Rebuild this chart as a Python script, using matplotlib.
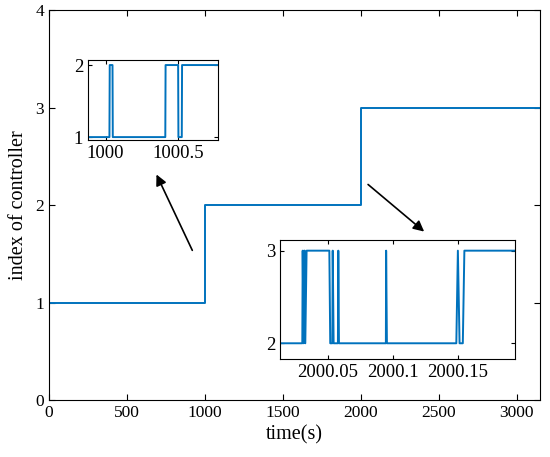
import matplotlib.pyplot as plt

plt.rcParams['font.family'] = ['Liberation Serif', 'DejaVu Serif']
plt.rcParams['font.size'] = 12.5

blue = '#0072BD'

# main curve: controller index over time
t_main = [0, 1000, 1000, 2000, 2000, 3150]
c_main = [1, 1, 2, 2, 3, 3]

# zoom around t = 1000 s
t_z1 = [999.88, 1000.027, 1000.029, 1000.048, 1000.050, 1000.410, 1000.412,
        1000.498, 1000.500, 1000.523, 1000.525, 1000.77]
c_z1 = [1, 1, 2, 2, 1, 1, 2, 2, 1, 1, 2, 2]

# zoom around t = 2000 s
t_z2 = [2000.013, 2000.0305, 2000.0308, 2000.0315, 2000.0320, 2000.0323,
        2000.0328, 2000.0338, 2000.0513, 2000.0520, 2000.0536, 2000.0539,
        2000.0546, 2000.0579, 2000.0582, 2000.0587, 2000.0948, 2000.0950,
        2000.0956, 2000.1490, 2000.1502, 2000.1515, 2000.1540, 2000.1552,
        2000.195]
c_z2 = [2, 2, 3, 2, 3, 3, 2, 3, 3, 2, 2, 3, 2, 2, 3, 2, 2, 3, 2, 2, 3, 2, 2, 3,
        3]

fig = plt.figure(figsize=(5.5, 4.57), dpi=100)

ax = fig.add_axes([0.089, 0.1247, 0.893, 0.853])
ax.plot(t_main, c_main, color=blue, lw=1.4)
ax.set_xlim(0, 3150)
ax.set_ylim(0, 4)
ax.set_xticks([0, 500, 1000, 1500, 2000, 2500, 3000])
ax.set_yticks([0, 1, 2, 3, 4])
ax.set_xlabel('time(s)', fontsize=14.5, labelpad=3)
ax.set_ylabel('index of controller', fontsize=14.5, labelpad=5)
ax.tick_params(direction='in', top=True, right=True, length=4)

ax.annotate('', xy=(682, 2.34), xytext=(927, 1.51),
            arrowprops=dict(arrowstyle='-|>', color='black', lw=1.2,
                            mutation_scale=16))
ax.annotate('', xy=(2420, 1.71), xytext=(2033, 2.23),
            arrowprops=dict(arrowstyle='-|>', color='black', lw=1.2,
                            mutation_scale=16))

ax1 = fig.add_axes([0.16, 0.6937, 0.236, 0.175])
ax1.plot(t_z1, c_z1, color=blue, lw=1.4)
ax1.set_xlim(999.88, 1000.77)
ax1.set_ylim(0.96, 2.07)
ax1.set_xticks([1000, 1000.5])
ax1.set_xticklabels(['1000', '1000.5'])
ax1.set_yticks([1, 2])
ax1.tick_params(direction='in', top=True, right=True, length=3,
                labelsize=13.5)

ax2 = fig.add_axes([0.509, 0.2144, 0.427, 0.2604])
ax2.plot(t_z2, c_z2, color=blue, lw=1.4)
ax2.set_xlim(2000.0133, 2000.194)
ax2.set_ylim(1.83, 3.115)
ax2.set_xticks([2000.05, 2000.1, 2000.15])
ax2.set_xticklabels(['2000.05', '2000.1', '2000.15'])
ax2.set_yticks([2, 3])
ax2.tick_params(direction='in', top=True, right=True, length=3,
                labelsize=13.5)

fig.savefig('out.png', dpi=100)
